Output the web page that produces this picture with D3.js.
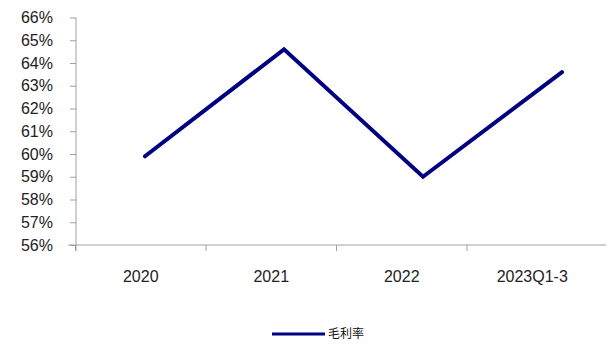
<!DOCTYPE html>
<html>
<head>
<meta charset="utf-8">
<script src="https://cdn.jsdelivr.net/npm/d3@7"></script>
<style>
  html, body { margin: 0; padding: 0; background: #fff; }
  svg { display: block; }
</style>
</head>
<body>
<svg id="chart" width="616" height="347"></svg>
<script>
// Gross margin by period
const categories = ["2020", "2021", "2022", "2023Q1-3"];
const grossMargin = [59.9, 64.6, 59.0, 63.6];
const yTicks = [56, 57, 58, 59, 60, 61, 62, 63, 64, 65, 66];
const seriesName = "毛利率";

const svg = d3.select("#chart");
const axisColor = "#a0a0a0";
const lineColor = "#000080";
const font = "'Liberation Sans', Arial, sans-serif";

const y = d3.scaleLinear().domain([56, 66]).range([245, 17.5]);
const xBand = d3.scaleBand().domain(categories).range([75.5, 597.5]);
const xPoint = d3.scalePoint().domain(categories).range([145, 562]);

// Y axis
const yAxis = svg.append("g")
  .attr("transform", "translate(76,0)")
  .call(d3.axisLeft(y).tickValues(yTicks).tickSize(6).tickPadding(17)
    .tickFormat(d => d + "%"));
yAxis.select(".domain").attr("stroke", axisColor).attr("d", "M0,17.5V251");
yAxis.selectAll(".tick line").attr("stroke", axisColor);
yAxis.selectAll("text")
  .attr("font-family", font).attr("font-size", "16px").attr("fill", "#222");

// X axis
const xAxis = svg.append("g")
  .attr("transform", "translate(0,245)")
  .call(d3.axisBottom(xBand).tickSize(0).tickPadding(26));
xAxis.select(".domain").attr("stroke", axisColor).attr("d", "M68,0H606");
xAxis.selectAll("text")
  .attr("font-family", font).attr("font-size", "16px").attr("fill", "#222");
// Category boundary ticks
const bounds = categories.map(c => xBand(c));
xAxis.selectAll(".bound").data(bounds).enter().append("line")
  .attr("class", "bound")
  .attr("x1", d => d).attr("x2", d => d)
  .attr("y1", 0).attr("y2", 6)
  .attr("stroke", axisColor);

// Line series
const line = d3.line()
  .x((d, i) => xPoint(categories[i]))
  .y(d => y(d));
svg.append("path")
  .datum(grossMargin)
  .attr("d", line)
  .attr("fill", "none")
  .attr("stroke", lineColor)
  .attr("stroke-width", 4)
  .attr("stroke-linejoin", "miter")
  .attr("stroke-linecap", "round");

// Legend
const legend = svg.append("g").attr("transform", "translate(272,334)");
legend.append("line")
  .attr("x1", 0).attr("x2", 53).attr("y1", 0).attr("y2", 0)
  .attr("stroke", lineColor).attr("stroke-width", 3);
legend.append("text")
  .attr("x", 56).attr("y", 0).attr("dy", "0.36em")
  .attr("font-family", "'Noto Sans CJK SC', sans-serif")
  .attr("font-size", "12px").attr("fill", "#111")
  .text(seriesName);
</script>
</body>
</html>
